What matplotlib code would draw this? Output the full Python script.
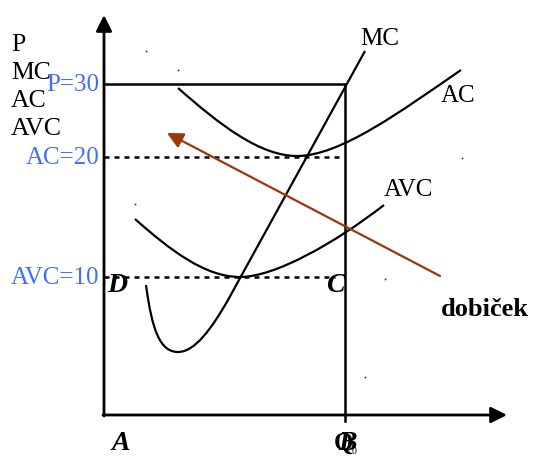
import numpy as np
import matplotlib
matplotlib.use("Agg")
import matplotlib.pyplot as plt
from matplotlib.path import Path
from matplotlib.patches import PathPatch

plt.rcParams['font.family'] = ['Liberation Serif', 'DejaVu Serif']

# --- levels (pixel-like coordinates of the sketch, y grows downward) ---
origin = (104, 415)
y_axis_top = 15
x_axis_end = 507
q0_x = 345
price_levels = [84, 157, 277]          # P=30, AC=20, AVC=10
price_labels = ["P=30", "AC=20", "AVC=10"]
level_ends = [345, 343, 335]
axis_title = ["P", "MC", "AC", "AVC"]

# curve control points (Bezier)
ac_pts = [(178, 88), (220, 125), (260, 156), (297, 156),
          (340, 156), (400, 112), (461, 70)]
avc_pts = [(135, 219), (170, 250), (205, 277), (240, 277),
           (275, 277), (335, 243), (384, 205)]
mc_pts = [(146, 285), (152, 330), (160, 352), (178, 352),
          (195, 352), (212, 328), (228, 300), (365, 51)]

arrow_from = (440, 276)
arrow_to = (167, 133)

stray_dots = [(146, 51), (178, 70), (135, 204), (462, 158), (385, 279), (365, 377)]

BLUE = '#3f6fff'
BROWN = '#9e3608'

fig = plt.figure(figsize=(5.33, 4.58), dpi=100)
ax = fig.add_axes([0, 0, 1, 1])
ax.set_xlim(0, 533)
ax.set_ylim(458, 0)
ax.axis('off')

# axes with arrows
ax.annotate('', xy=(origin[0], y_axis_top), xytext=(origin[0], origin[1] + 1),
            arrowprops=dict(arrowstyle='-|>', color='black', lw=2,
                            mutation_scale=24, shrinkA=0, shrinkB=0))
ax.annotate('', xy=(x_axis_end, origin[1]), xytext=(origin[0] - 1, origin[1]),
            arrowprops=dict(arrowstyle='-|>', color='black', lw=2,
                            mutation_scale=24, shrinkA=0, shrinkB=0))

# price line and Q0 vertical
ax.plot([origin[0], q0_x], [price_levels[0], price_levels[0]], color='black', lw=1.8)
ax.plot([q0_x, q0_x], [price_levels[0], origin[1] + 6], color='black', lw=1.8)

# dotted levels
for lvl, end in zip(price_levels[1:], level_ends[1:]):
    ax.plot([origin[0], end], [lvl, lvl], color='black', lw=1.8, ls=(0, (2, 2)))


def bezier(pts, line_tail=False):
    codes = [Path.MOVETO] + [Path.CURVE4] * (len(pts) - 1)
    if line_tail:
        codes = [Path.MOVETO] + [Path.CURVE4] * (len(pts) - 2) + [Path.LINETO]
    return PathPatch(Path(pts, codes), fill=False, edgecolor='black', lw=1.6,
                     capstyle='butt')


ax.add_patch(bezier(ac_pts))
ax.add_patch(bezier(avc_pts))
ax.add_patch(bezier(mc_pts, line_tail=True))

# profit arrow
ax.annotate('', xy=arrow_to, xytext=arrow_from,
            arrowprops=dict(arrowstyle='-|>', color=BROWN, lw=1.6,
                            mutation_scale=24, shrinkA=0, shrinkB=0))

# stray dots
for dx, dy in stray_dots:
    ax.plot(dx, dy, marker='s', ms=1.2, color='#333333', mew=0)

# left axis title
for i, t in enumerate(axis_title):
    ax.text(11, 45 + i * 28, t, fontsize=18.5, ha='left', va='center', color='black')

# blue level labels
for lvl, lab in zip(price_levels, price_labels):
    ax.text(99, lvl + 1, lab, fontsize=18, ha='right', va='center', color=BLUE)

# curve labels
ax.text(360, 39, "MC", fontsize=18, ha='left', va='center')
ax.text(441, 96, "AC", fontsize=18, ha='left', va='center')
ax.text(384, 190, "AVC", fontsize=18, ha='left', va='center')

# point letters
ax.text(107, 285, "D", fontsize=20, fontweight='bold', style='italic', ha='left', va='center')
ax.text(326, 285, "C", fontsize=20, fontweight='bold', style='italic', ha='left', va='center')
ax.text(111, 443, "A", fontsize=20, fontweight='bold', style='italic', ha='left', va='center')
# Q0 and B sit on top of each other in the original sketch
ax.text(334, 443, "Q", fontsize=18, fontweight='bold', ha='left', va='center')
ax.text(338, 443, "B", fontsize=20, fontweight='bold', style='italic', ha='left', va='center')
ax.text(352, 452, "0", fontsize=7, ha='left', va='center')

ax.text(441, 309, "dobiček", fontsize=19, fontweight='bold', ha='left', va='center')

fig.savefig("out.png", dpi=100)
